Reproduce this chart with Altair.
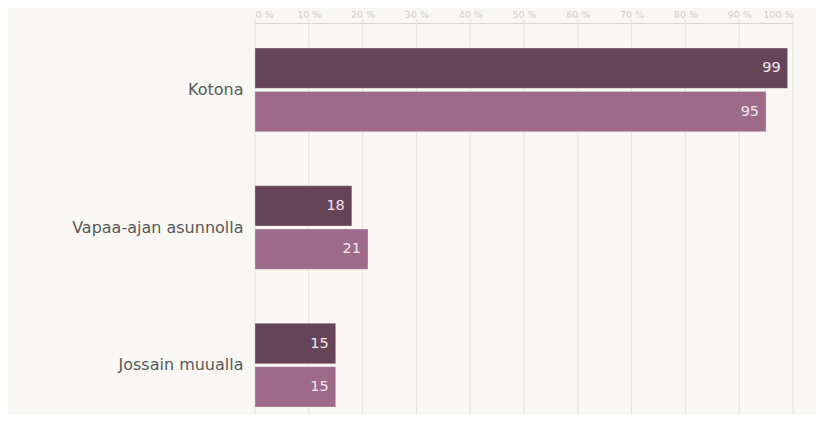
import altair as alt
import pandas as pd

categories = ["Kotona", "Vapaa-ajan asunnolla", "Jossain muualla"]
series_names = ["Sarja 1", "Sarja 2"]
series1 = [99, 18, 15]
series2 = [95, 21, 15]
tick_values = [0, 10, 20, 30, 40, 50, 60, 70, 80, 90, 100]
series_colors = ["#654457", "#9d6a89"]

rows = []
for c, a, b in zip(categories, series1, series2):
    rows.append({"cat": c, "series": series_names[0], "value": a})
    rows.append({"cat": c, "series": series_names[1], "value": b})
df = pd.DataFrame(rows)
ticks_df = pd.DataFrame({"t": tick_values})

FONT = "DejaVu Sans"
BG = "#f9f7f3"
H = 391

xscale = alt.Scale(domain=[0, 100], nice=False, zero=True)
yscale = alt.Scale(domain=categories, paddingInner=0.393, paddingOuter=0.117, align=0.78)
yoff_scale = alt.Scale(domain=series_names, paddingInner=0.07, paddingOuter=0)
color_scale = alt.Scale(domain=series_names, range=series_colors)

x_axis = alt.Axis(
    orient="top",
    values=tick_values,
    labelExpr="datum.value + ' %'",
    grid=False,
    ticks=False,
    domain=True,
    domainColor="#d9d5d0",
    labelColor="#d2cec9",
    labelFontSize=9.5,
    labelFont=FONT,
    labelPadding=4,
    title=None,
)

grid = alt.Chart(ticks_df).mark_rule(color="#e6e2de", strokeWidth=1).encode(
    x=alt.X("t:Q", scale=xscale, axis=x_axis),
    y=alt.value(-4),
    y2=alt.value(H + 20),
)

bars = alt.Chart(df).mark_bar(stroke="#ece2e8", strokeWidth=0.6, strokeOpacity=0.6).encode(
    x=alt.X("value:Q", scale=xscale, axis=x_axis),
    y=alt.Y(
        "cat:N",
        scale=yscale,
        sort=categories,
        axis=alt.Axis(
            title=None,
            ticks=False,
            domain=False,
            labelFontSize=16,
            labelColor="#595959",
            labelFont=FONT,
            labelPadding=12,
            labelLimit=300,
        ),
    ),
    yOffset=alt.YOffset("series:N", scale=yoff_scale, sort=series_names),
    color=alt.Color("series:N", scale=color_scale, legend=None),
)

labels = alt.Chart(df).mark_text(
    align="right", baseline="middle", dx=-7, font=FONT, fontSize=14.5, color="#f2e6ee"
).encode(
    x=alt.X("value:Q", scale=xscale, axis=x_axis),
    y=alt.Y("cat:N", scale=yscale, sort=categories),
    yOffset=alt.YOffset("series:N", scale=yoff_scale, sort=series_names),
    text=alt.Text("value:Q"),
)

chart = (
    alt.layer(grid, bars, labels)
    .properties(
        width=538,
        height=H,
        background=BG,
        padding={"left": 247, "top": 15, "right": 23, "bottom": 0},
        autosize=alt.AutoSizeParams(type="none"),
    )
    .configure_view(stroke=None)
)

chart.save("out.html", embed_options={"renderer": "svg", "actions": False})
